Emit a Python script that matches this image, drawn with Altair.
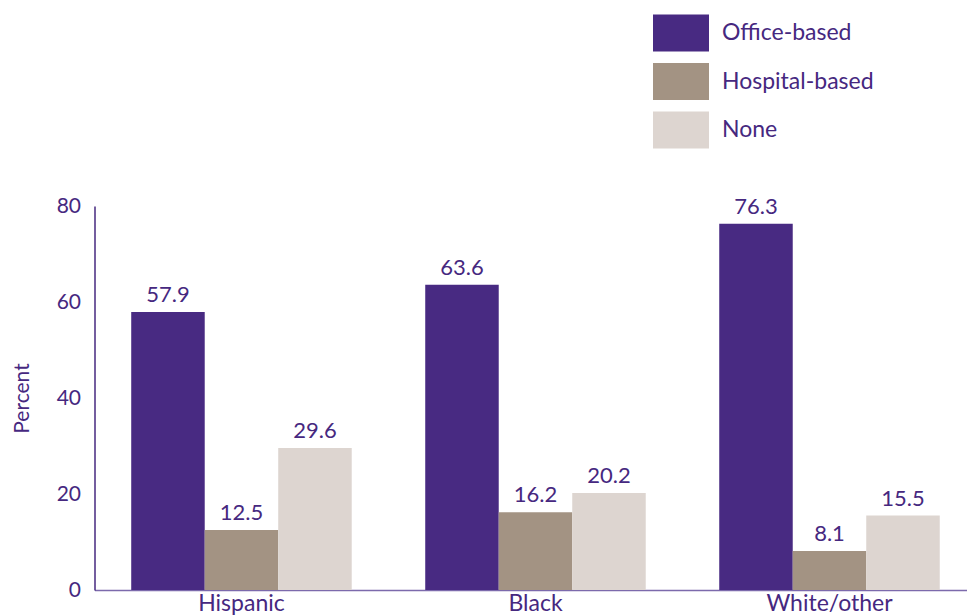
import altair as alt
import pandas as pd

groups = ["Hispanic", "Black", "White/other"]
series = ["Office-based", "Hospital-based", "None"]
office = [57.9, 63.6, 76.3]
hospital = [12.5, 16.2, 8.1]
none_ = [29.6, 20.2, 15.5]
colors = ["#482a82", "#a39383", "#ddd5d0"]
y_ticks = [0, 20, 40, 60, 80]

rows = []
for i, g in enumerate(groups):
    for s, vals in zip(series, [office, hospital, none_]):
        rows.append({"group": g, "series": s, "value": vals[i]})
df = pd.DataFrame(rows)

TXT = "#46287f"
FONT = "Lato"

x = alt.X("group:N", sort=groups, title=None,
          scale=alt.Scale(paddingInner=0.25, paddingOuter=0.1088, align=0.574, round=False),
          axis=alt.Axis(labelAngle=0, labelFontSize=23, labelColor=TXT, labelFont=FONT,
                        ticks=False, labelPadding=2, domainColor="#7c6aac", domainWidth=1.5))
xo = alt.XOffset("series:N", sort=series,
                 scale=alt.Scale(paddingInner=0, paddingOuter=0))
y = alt.Y("value:Q", title="Percent",
          scale=alt.Scale(domain=[0, 80], nice=False),
          axis=alt.Axis(values=y_ticks, grid=False, ticks=False, labelPadding=14,
                        labelFontSize=21, labelColor=TXT, labelFont=FONT,
                        domainColor=TXT, domainWidth=1.5,
                        titleFontSize=21, titleColor=TXT, titleFont=FONT,
                        titleFontWeight="normal", titlePadding=24))

color = alt.Color("series:N", sort=series, title=None,
                  scale=alt.Scale(domain=series, range=colors),
                  legend=alt.Legend(orient="none", legendX=558.5, legendY=-201,
                                    symbolType="M-1,-0.66L1,-0.66L1,0.66L-1,0.66Z",
                                    symbolSize=3136, symbolStrokeWidth=0,
                                    symbolOpacity=1, labelOffset=13,
                                    labelFontSize=23, labelColor=TXT, labelFont=FONT,
                                    rowPadding=1.5, padding=0))

bars = alt.Chart(df).mark_bar().encode(x=x, xOffset=xo, y=y, color=color)
labels = alt.Chart(df).mark_text(baseline="bottom", dy=-5, fontSize=22, color=TXT, font=FONT).encode(
    x=alt.X("group:N", sort=groups), xOffset=alt.XOffset("series:N", sort=series),
    y="value:Q", text=alt.Text("value:Q", format=".1f"))

chart = (bars + labels).properties(
    width=872.5, height=384,
    autosize=alt.AutoSizeParams(type="none"),
    padding={"left": 86.5, "top": 198, "right": 0, "bottom": 26},
).configure_view(stroke=None)

chart.save("out.html", embed_options={"renderer": "svg", "actions": False})
